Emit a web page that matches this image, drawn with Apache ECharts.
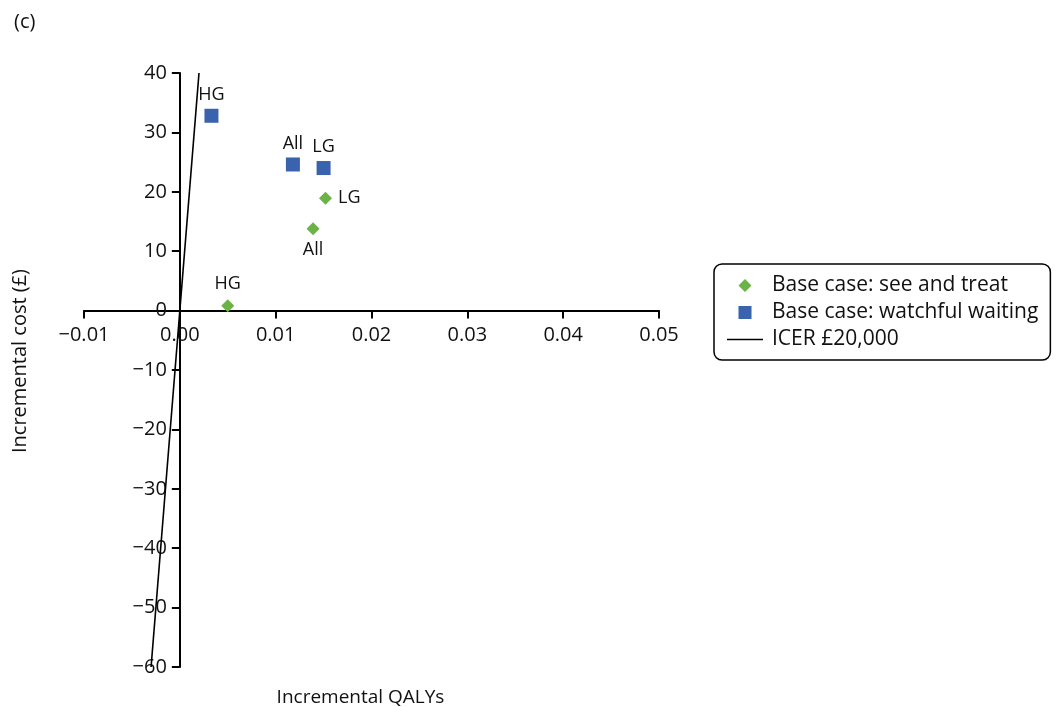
<!DOCTYPE html>
<html>
<head>
<meta charset="utf-8">
<script src="https://cdn.jsdelivr.net/npm/echarts@6/dist/echarts.min.js"></script>
<style>html,body{margin:0;padding:0;background:#fff}#c{width:1062px;height:707px}</style>
</head>
<body>
<div id="c"></div>
<script>
// ---- data ----
var groupNames = ['HG', 'All', 'LG'];
var seeTreatQaly = [0.0050, 0.0139, 0.0152];
var seeTreatCost = [0.8, 13.8, 18.9];
var watchfulQaly = [0.0033, 0.0118, 0.0150];
var watchfulCost = [32.8, 24.6, 24.0];
var icerQaly = [-0.003, 0.002];
var icerCost = [-60, 40];
var seriesNames = ['Base case: see and treat', 'Base case: watchful waiting', 'ICER £20,000'];
var xTicks = [-0.01, 0.00, 0.01, 0.02, 0.03, 0.04, 0.05];
var yTicks = [-60, -50, -40, -30, -20, -10, 0, 10, 20, 30, 40];

// ---- label placement (style) ----
var seeTreatLabelPos = ['top', 'bottom', 'right'];
var watchfulLabelPos = ['top', 'top', 'top'];

var FONT = 'Open Sans';
var GREEN = '#6ab344', BLUE = '#3a63ad';
var GRID = { left: 84, right: 403, top: 73, bottom: 40 };
var W = 1062, H = 707;
var xMin = xTicks[0], xMax = xTicks[xTicks.length - 1];
var yMin = yTicks[0], yMax = yTicks[yTicks.length - 1];
// distance of zero lines from grid edges (so axes cross at the origin)
var plotW = W - GRID.left - GRID.right, plotH = H - GRID.top - GRID.bottom;
var xAxisOffset = -plotH * (0 - yMin) / (yMax - yMin);
var yAxisOffset = -plotW * (0 - xMin) / (xMax - xMin);

function pts(xs, ys, pos) {
  return xs.map(function (x, i) {
    return { value: [x, ys[i]], name: groupNames[i], label: { position: pos[i] } };
  });
}
function minus(s) { return String(s).replace('-', '\u2212'); }

var chart = echarts.init(document.getElementById('c'));
chart.setOption({
  animation: false,
  textStyle: { fontFamily: FONT },
  title: {
    text: '(c)', left: 9, top: 7,
    textStyle: { fontFamily: FONT, fontSize: 20, fontWeight: 'normal', color: '#111' }
  },
  grid: { left: GRID.left, right: GRID.right, top: GRID.top, bottom: GRID.bottom, containLabel: false, outerBoundsMode: 'none' },
  xAxis: {
    type: 'value',
    min: xMin, max: xMax, interval: 0.01,
    offset: xAxisOffset,
    name: 'Incremental QALYs', nameLocation: 'middle', nameGap: 377,
    nameTextStyle: { fontFamily: FONT, fontSize: 19, color: '#111', padding: [0, 22, 0, 0] },
    axisLine: { onZero: false, lineStyle: { color: '#000', width: 2 } },
    axisTick: { length: 8, lineStyle: { color: '#000', width: 2 } },
    axisLabel: {
      fontFamily: FONT, fontSize: 20, color: '#111', margin: 15,
      formatter: function (v) { return minus(v.toFixed(2)); }
    },
    splitLine: { show: false }
  },
  yAxis: {
    type: 'value',
    min: yMin, max: yMax, interval: 10,
    offset: yAxisOffset,
    name: 'Incremental cost (£)', nameLocation: 'middle', nameGap: 150,
    nameTextStyle: { fontFamily: FONT, fontSize: 20, color: '#111', padding: [0, 0, 0, 18] },
    axisLine: { onZero: false, lineStyle: { color: '#000', width: 2 } },
    axisTick: { length: 8, lineStyle: { color: '#000', width: 2 } },
    axisLabel: {
      fontFamily: FONT, fontSize: 20, color: '#111', margin: 13,
      formatter: function (v) { return minus(v); }
    },
    splitLine: { show: false }
  },
  legend: {
    orient: 'vertical', left: 714, top: 264,
    padding: [11, 12, 10, 13],
    borderColor: '#000', borderWidth: 1.5, borderRadius: 8,
    itemWidth: 36, itemHeight: 14, itemGap: 6,
    textStyle: { fontFamily: FONT, fontSize: 21, color: '#111', padding: [0, 0, 0, 4] },
    data: [
      { name: seriesNames[0], icon: 'path://M0,7L0.01,7ZM36,7L35.99,7ZM11.5,7L18,0.5L24.5,7L18,13.5Z', itemStyle: { color: GREEN } },
      { name: seriesNames[1], icon: 'path://M0,7L0.01,7ZM36,7L35.99,7ZM11.5,0.5L24.5,0.5L24.5,13.5L11.5,13.5Z', itemStyle: { color: BLUE } },
      { name: seriesNames[2], icon: 'path://M0,0L0.01,0ZM0,14L0.01,14ZM0,6.3L36,6.3L36,7.7L0,7.7Z', itemStyle: { color: '#000' } }
    ]
  },
  series: [
    {
      name: seriesNames[0], type: 'scatter', symbol: 'diamond', symbolSize: 13,
      itemStyle: { color: GREEN, opacity: 1 },
      label: { show: true, formatter: '{b}', fontFamily: FONT, fontSize: 18, color: '#111', distance: 6 },
      data: pts(seeTreatQaly, seeTreatCost, seeTreatLabelPos)
    },
    {
      name: seriesNames[1], type: 'scatter', symbol: 'rect', symbolSize: 14,
      itemStyle: { color: BLUE, opacity: 1 },
      label: { show: true, formatter: '{b}', fontFamily: FONT, fontSize: 18, color: '#111', distance: 5 },
      data: pts(watchfulQaly, watchfulCost, watchfulLabelPos)
    },
    {
      name: seriesNames[2], type: 'line', showSymbol: false, symbol: 'none',
      lineStyle: { color: '#000', width: 1.6 }, itemStyle: { color: '#000' },
      data: icerQaly.map(function (x, i) { return [x, icerCost[i]]; })
    }
  ]
});
</script>
</body>
</html>
